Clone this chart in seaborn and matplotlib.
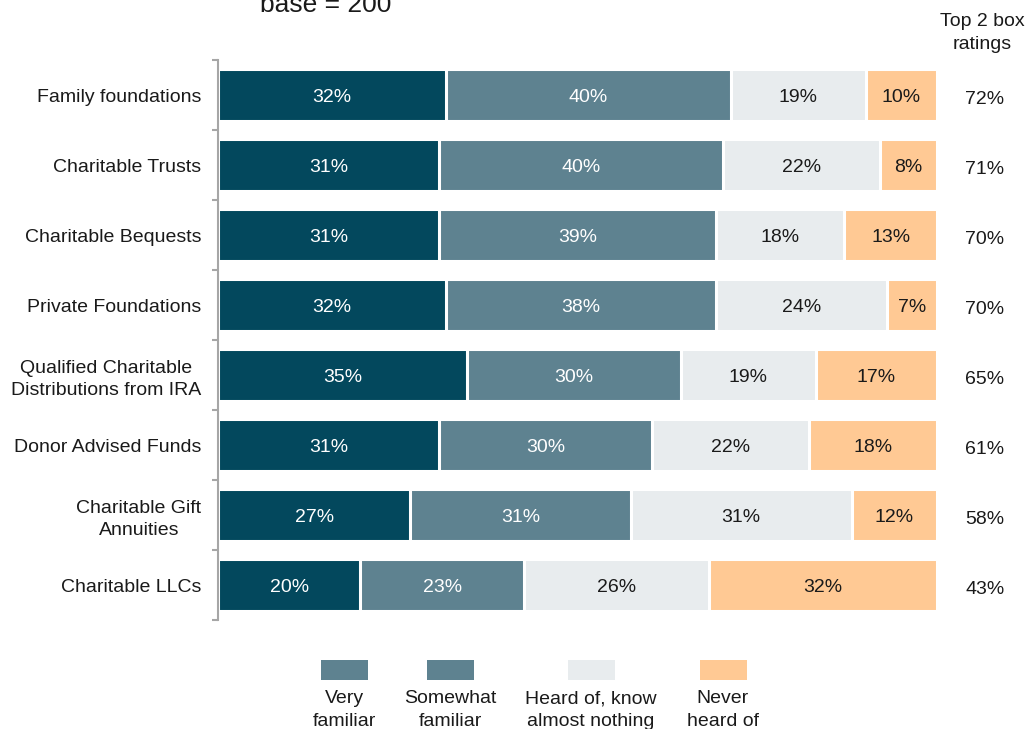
import numpy as np
import pandas as pd
import matplotlib
matplotlib.use("Agg")
import matplotlib.pyplot as plt
from matplotlib.patches import Rectangle
from matplotlib.transforms import blended_transform_factory
import seaborn as sns

categories = [
    "Family foundations",
    "Charitable Trusts",
    "Charitable Bequests",
    "Private Foundations",
    "Qualified Charitable\nDistributions from IRA",
    "Donor Advised Funds",
    "Charitable Gift\nAnnuities",
    "Charitable LLCs",
]
very_familiar = [32, 31, 31, 32, 35, 31, 27, 20]
somewhat_familiar = [40, 40, 39, 38, 30, 30, 31, 23]
heard_of = [19, 22, 18, 24, 19, 22, 31, 26]
never_heard = [10, 8, 13, 7, 17, 18, 12, 32]
top2_box = [72, 71, 70, 70, 65, 61, 58, 43]

series_names = ["Very\nfamiliar", "Somewhat\nfamiliar",
                "Heard of, know\nalmost nothing", "Never\nheard of"]
series = [very_familiar, somewhat_familiar, heard_of, never_heard]
seg_colors = ["#03485D", "#5E8290", "#E8ECEE", "#FFC994"]
legend_colors = ["#5E8290", "#5E8290", "#E8ECEE", "#FFC994"]
text_colors = ["white", "white", "#1a1a1a", "#1a1a1a"]

sns.set_theme(style="white")
plt.rcParams["font.family"] = ["Liberation Sans", "DejaVu Sans"]

fig = plt.figure(figsize=(10.30, 7.29), dpi=100)
ax = fig.add_axes([218 / 1030, 109 / 729, (937 - 218) / 1030, (669 - 109) / 729])

vals = np.array(series, dtype=float)
cum = np.cumsum(vals, axis=0)
total = cum[-1].max()

# stacked bars: draw longest cumulative first so shorter ones sit on top
for i in range(len(series) - 1, -1, -1):
    df = pd.DataFrame({"cat": categories, "x": cum[i]})
    sns.barplot(data=df, x="x", y="cat", orient="h", color=seg_colors[i],
                saturation=1, width=0.75, edgecolor="white", linewidth=2.2,
                ax=ax)

# segment labels
for i in range(len(series)):
    for j in range(len(categories)):
        xc = cum[i, j] - vals[i, j] / 2
        ax.text(xc, j, f"{int(vals[i, j])}%", ha="center", va="center_baseline",
                fontsize=14, color=text_colors[i])

ax.set_xlim(0, total)
ax.set_ylim(len(categories) - 0.5, -0.5)
ax.set_xlabel("")
ax.set_ylabel("")
ax.set_xticks([])

for s in ["top", "right", "bottom"]:
    ax.spines[s].set_visible(False)
ax.spines["left"].set_color("#A6A6A6")
ax.spines["left"].set_linewidth(1.5)

ax.set_yticks(range(len(categories)))
ax.set_yticklabels(categories, fontsize=14, color="#1a1a1a",
                   multialignment="center", linespacing=1.4)
ax.tick_params(axis="y", which="major", length=0, pad=12)
ax.set_yticks(np.arange(-0.5, len(categories), 1), minor=True)
ax.tick_params(axis="y", which="minor", length=4, width=1.5, color="#A6A6A6", left=True)

# top 2 box column
tr = blended_transform_factory(fig.transFigure, ax.transData)
for j, v in enumerate(top2_box):
    ax.text(985 / 1030, j + 0.04, f"{v}%", transform=tr,
            ha="center", va="center_baseline", fontsize=14, color="#1a1a1a")

fig.text(982 / 1030, 1 - 33 / 729, "Top 2 box\nratings", ha="center", va="center",
         fontsize=14, color="#1a1a1a", linespacing=1.4)
fig.text(326 / 1030, 1 - 5 / 729, "base = 200", ha="center", va="center",
         fontsize=19, color="#1a1a1a")

# legend below the chart
legend_x = [344, 450, 591, 723]
sw_w, sw_h = 47, 20
for cx, col, name in zip(legend_x, legend_colors, series_names):
    fig.add_artist(Rectangle(((cx - sw_w / 2) / 1030, 1 - 680 / 729), sw_w / 1030, sw_h / 729,
                             transform=fig.transFigure, facecolor=col, edgecolor="none"))
    fig.text(cx / 1030, 1 - 690 / 729, name, ha="center", va="top", fontsize=14,
             color="#1a1a1a", linespacing=1.45)

fig.savefig("out.png", dpi=100)
